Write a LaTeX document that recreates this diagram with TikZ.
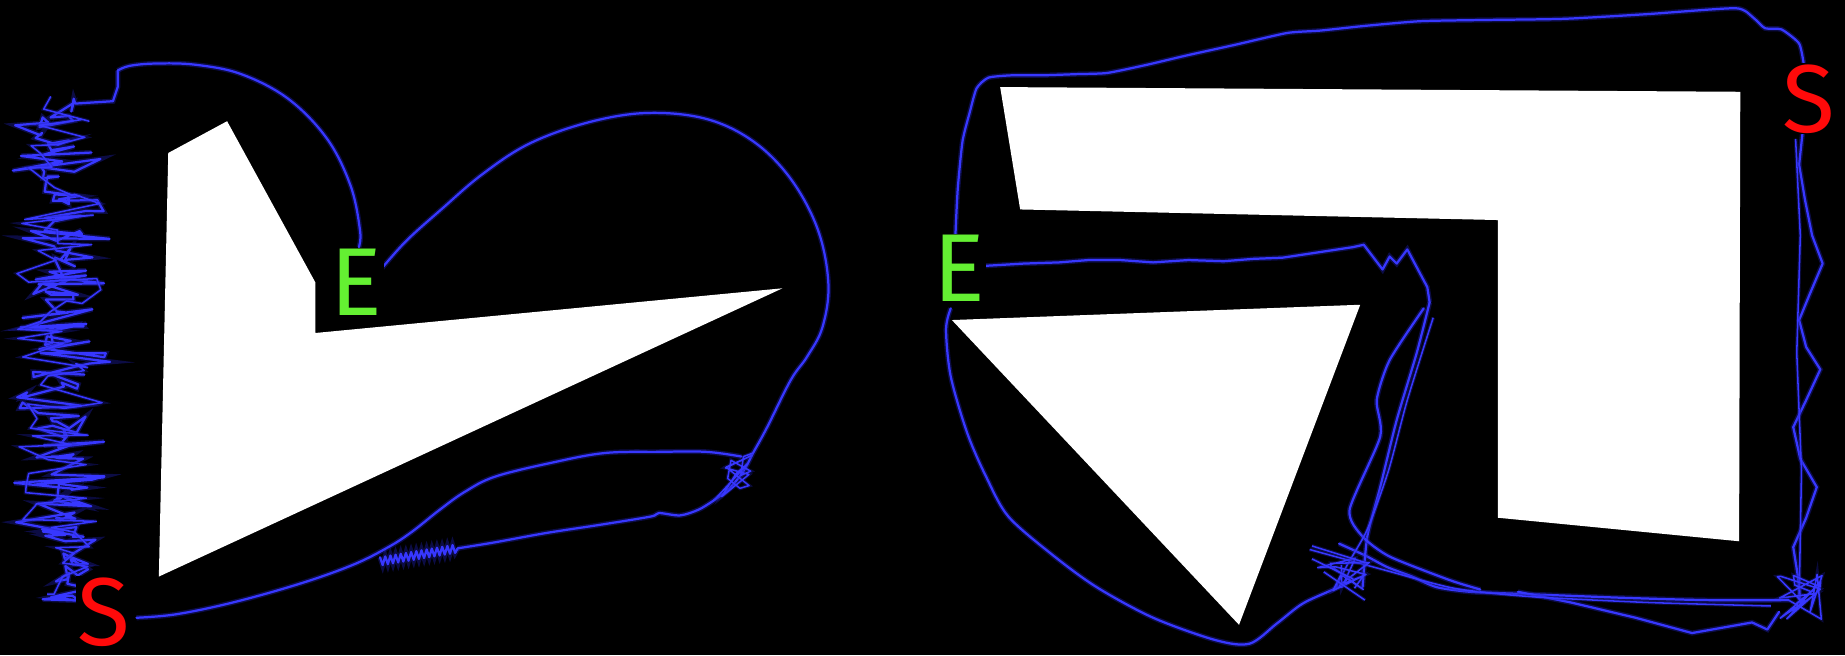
\documentclass[tikz,border=0pt]{standalone}
\usepackage{fontspec}
\newfontfamily\labelfont{Fira Sans}
\definecolor{trajblue}{RGB}{55,55,255}
\definecolor{trajglow}{RGB}{30,30,170}
\definecolor{sred}{RGB}{255,10,10}
\definecolor{egreen}{RGB}{100,240,50}
\tikzset{
  traj/.style={draw=trajblue, line width=1.9pt, line join=round, line cap=round,
    preaction={draw=trajglow, line width=4.4pt, opacity=0.4}},
  thin traj/.style={draw=trajblue, line width=1.3pt, line join=round,
    preaction={draw=trajglow, line width=3.2pt, opacity=0.35}},
  lbl/.style={fill=black, inner sep=1pt, font=\labelfont\fontsize{82}{82}\selectfont},
  obstacle/.style={fill=white}
}
\begin{document}
\begin{tikzpicture}[x=1pt,y=-1pt]
\useasboundingbox (0,0) rectangle (1568,557);
\fill[black] (0,0) rectangle (1568,557);

% ---------------- obstacles ----------------
\fill[obstacle] (143,130) -- (193,103) -- (268,240) -- (268,283) -- (665,245) -- (135,490) -- cycle;
\fill[obstacle] (850,74) -- (1479,78) -- (1478,460) -- (1273,440) -- (1273,187) -- (867,178) -- cycle;
\fill[obstacle] (809,272) -- (1156,259) -- (1053,531) -- cycle;

% ---------------- left trajectory ----------------
\pgfmathsetseed{11}
\draw[traj] (72,516) \foreach \i in {1,...,200} { -- ({52+(30+14*sin(\i*23))*rand},{514-2.13*\i+7*rand}) } -- (96,86) -- (100,74) -- (100,60);
\draw[thin traj] (40,505) \foreach \i in {1,...,70} { -- ({50+38*rand},{505-6*\i+6*rand}) };

\draw[traj] plot[smooth,tension=0.6] coordinates {(100,60) (110,56) (132,54) (166,55) (205,63) (245,84) (278,118) (298,158) (306,196) (305,210)};

\draw[traj] plot[smooth,tension=0.6] coordinates {(322,231) (345,205) (375,178) (410,148) (450,122) (500,104) (550,96) (600,101) (640,120) (672,152) (695,195) (704,241) (699,278) (686,303) (672,323) (652,363) (640,385) (632,400) (620,415) (607,425)};

% knot near the left tip
\draw[thin traj] (640,385) \foreach \i in {1,...,14} { -- ({626+13*rand},{402+20*rand}) } -- (607,425);

% lower strand with spring
\draw[traj] plot[smooth,tension=0.5] coordinates {(607,425) (594,433) (578,438) (560,436) (553,439) (510,446) (464,453) (420,461) (389,466)};
\draw[traj] (389,466) \foreach \i in {1,...,30} { -- ({389-2.2*\i},{466+0.37*\i+(mod(\i,2)*2-1)*3.5}) };

% upper strand back to S
\draw[traj] plot[smooth,tension=0.6] coordinates {(630,388) (600,384) (560,384) (514,385) (470,393) (421,405) (395,418) (374,433) (350,452) (330,465) (300,480) (255,496) (198,512) (150,522) (116,525)};

% ---------------- right trajectory ----------------
\draw[traj] plot[smooth,tension=0.35] coordinates {(812,232) (812,200) (814,160) (818,120) (824,96) (830,75) (840,66) (860,64) (886,64) (915,63) (941,62) (975,55) (1009,47) (1050,38) (1094,28) (1122,26) (1160,22) (1207,18) (1260,17) (1329,16) (1400,12) (1475,7) (1490,15) (1500,24) (1514,25) (1529,37) (1533,55)};

\draw[traj] (1532,112) -- (1529,140) -- (1534,170) -- (1540,200) -- (1549,224) -- (1538,250) -- (1529,272) -- (1535,295) -- (1547,314) -- (1535,340) -- (1524,363) -- (1530,390) -- (1544,414) -- (1535,440) -- (1524,465) -- (1528,490) -- (1530,510);
\draw[thin traj] (1526,118) -- (1530,200) -- (1527,300) -- (1531,400) -- (1529,510);

\pgfmathsetseed{5}
\draw[thin traj] (1530,510) \foreach \i in {1,...,18} { -- ({1530+22*rand},{508+20*rand}) } -- (1520,510);

\draw[traj] plot[smooth,tension=0.4] coordinates {(1520,510) (1450,510) (1378,508) (1300,505) (1250,503) (1221,499) (1200,490) (1179,482) (1160,472) (1138,462)};
\draw[traj] (1512,520) -- (1502,535) -- (1489,529) -- (1438,538) -- (1390,525) -- (1335,512) -- (1290,503);
\draw[thin traj] plot[smooth,tension=0.4] coordinates {(1113,467) (1175,484) (1236,500) (1300,507) (1400,512) (1505,515)};

\draw[traj] plot[smooth,tension=0.5] coordinates {(808,262) (804,280) (808,320) (822,368) (838,405) (857,439) (895,472) (932,499) (980,525) (1033,544) (1062,547) (1085,530) (1107,513) (1133,501) (1145,495)};

\draw[traj] (836,226) -- (870,224) -- (900,223) -- (925,221) -- (952,221) -- (980,223) -- (1010,221) -- (1040,222) -- (1065,220) -- (1090,219) -- (1110,216) -- (1130,213) -- (1150,210) -- (1159,208) -- (1175,229) -- (1181,218) -- (1187,224) -- (1196,212) -- (1213,244) -- (1215,257);

\draw[traj] plot[smooth,tension=0.4] coordinates {(1215,257) (1204,300) (1187,357) (1173,414) (1162,456) (1158,499)};
\draw[traj] plot[smooth,tension=0.4] coordinates {(1210,262) (1181,306) (1170,340) (1173,371) (1147,433) (1158,456) (1181,473) (1232,493) (1258,501)};
\draw[thin traj] plot[smooth,tension=0.4] coordinates {(1218,270) (1196,340) (1180,400) (1162,450) (1145,480) (1135,500)};

\pgfmathsetseed{3}
\draw[thin traj] (1140,480) \foreach \i in {1,...,14} { -- ({1140+24*rand},{488+17*rand}) };
\draw[thin traj] (1115,464) -- (1160,478) (1115,475) -- (1150,492) (1125,486) -- (1160,510);

% ---------------- labels ----------------
\node[lbl, text=sred] (sLeft) at (88,520) {S};
\node[lbl, text=egreen] (eLeft) at (303,240) {E};
\node[lbl, text=sred] (sRight) at (1537,84) {S};
\node[lbl, text=egreen] (eRight) at (815,228) {E};
\end{tikzpicture}
\end{document}
